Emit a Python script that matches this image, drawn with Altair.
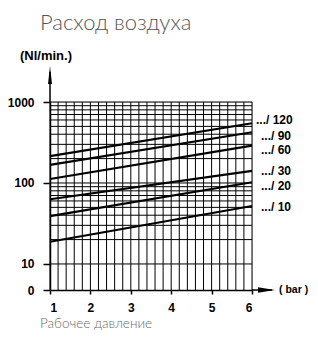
import altair as alt
import pandas as pd

# ---- data ----
series = [".../ 120", ".../ 90", ".../ 60", ".../ 30", ".../ 20", ".../ 10"]
pressure_start = [1, 1, 1, 1, 1, 1]
pressure_end = [6, 6, 6, 6, 6, 6]
flow_start = [215, 167, 112, 63, 39, 18.8]
flow_end = [546, 423, 289, 141, 102, 52]

x_ticks = [1, 2, 3, 4, 5, 6]
x_grid = [1.0, 1.2, 1.4, 1.6, 1.8, 2.0, 2.2, 2.4, 2.6, 2.8, 3.0, 3.2, 3.4, 3.6, 3.8,
          4.0, 4.2, 4.4, 4.6, 4.8, 5.0, 5.2, 5.4, 5.6, 5.8, 6.0]
y_grid = [10, 20, 30, 40, 50, 60, 70, 80, 90,
          100, 200, 300, 400, 500, 600, 700, 800, 900, 1000]
y_bottom = 4.77  # shown as "0"
y_ticks = [y_bottom, 10, 100, 1000]

title_text = "Расход воздуха"
y_title = "(Nl/min.)"
x_unit = "( bar )"
x_title = "Рабочее давление"

# ---- tables ----
rows = []
for s, p0, p1, q0, q1 in zip(series, pressure_start, pressure_end, flow_start, flow_end):
    rows.append({"series": s, "p": p0, "q": q0})
    rows.append({"series": s, "p": p1, "q": q1})
lines_df = pd.DataFrame(rows)
ends_df = pd.DataFrame({"series": series, "p": pressure_end, "q": flow_end})

W, H = 202, 188
BOLD = "Liberation Sans"
LIGHT = "Lato"

xs = alt.Scale(domain=[1, 6], nice=False, zero=False)
ys = alt.Scale(type="log", domain=[y_bottom, 1000], nice=False)

x_axis = alt.Axis(values=x_ticks, grid=False, tickSize=4, tickColor="black", tickWidth=1.5,
                  domainColor="black", domainWidth=1.5, labelFont=BOLD, labelFontWeight="bold",
                  labelFontSize=12, labelColor="black", labelPadding=8, format="d",
                  labelOverlap=False)
y_axis = alt.Axis(values=y_ticks, grid=False, tickSize=7, tickColor="black", tickWidth=1.5,
                  domainColor="black", domainWidth=1.5, labelFont=BOLD, labelFontWeight="bold",
                  labelFontSize=12, labelColor="black", labelPadding=9, labelOverlap=False,
                  labelExpr="datum.value < 5 ? '0' : format(datum.value, 'd')")

X = alt.X("p:Q", scale=xs, axis=x_axis, title=None)
Y = alt.Y("q:Q", scale=ys, axis=y_axis, title=None)

vgrid = alt.Chart(pd.DataFrame({"p": x_grid})).mark_rule(color="#000", strokeWidth=1).encode(x=X)
hgrid = alt.Chart(pd.DataFrame({"q": y_grid})).mark_rule(color="#000", strokeWidth=1).encode(y=Y)

lines = alt.Chart(lines_df).mark_line(color="black", strokeWidth=2.2).encode(
    x=X, y=Y, detail="series:N")

label_offsets = {0: (4, -3), 1: (9, 4), 2: (9, 4), 3: (9, 0), 4: (9, 4), 5: (9, 1)}
label_layers = []
for i, s in enumerate(series):
    dx, dy = label_offsets[i]
    label_layers.append(
        alt.Chart(ends_df[ends_df["series"] == s]).mark_text(
            align="left", baseline="middle", dx=dx, dy=dy, font=BOLD,
            fontWeight="bold", fontSize=12, color="black"
        ).encode(x=X, y=Y, text="series:N")
    )

one = pd.DataFrame({"a": [0]})

up_line = alt.Chart(one).mark_rule(color="black", strokeWidth=1.5).encode(
    x=alt.value(0), y=alt.value(0), y2=alt.value(-30))
up_head = alt.Chart(one).mark_point(
    shape="M0,-1L0.22,1L-0.22,1Z", filled=True, color="black", opacity=1, size=324
).encode(x=alt.value(0), y=alt.value(-27))

right_line = alt.Chart(one).mark_rule(color="black", strokeWidth=1.5).encode(
    x=alt.value(W), x2=alt.value(W + 20), y=alt.value(H))
right_head = alt.Chart(one).mark_point(
    shape="M1,0L-1,-0.32L-1,0.32Z", filled=True, color="black", opacity=1, size=289
).encode(x=alt.value(216.5), y=alt.value(H))

bar_text = alt.Chart(one).mark_text(
    align="left", baseline="middle", font=BOLD, fontWeight="bold", fontSize=10.5, color="black"
).encode(x=alt.value(W + 27), y=alt.value(H), text=alt.value(x_unit))

title = alt.Chart(one).mark_text(
    align="left", baseline="alphabetic", font=LIGHT, fontWeight=300, fontSize=22, color="#555555"
).encode(x=alt.value(-10), y=alt.value(-72), text=alt.value(title_text))

ytitle = alt.Chart(one).mark_text(
    align="left", baseline="middle", font=BOLD, fontWeight="bold", fontSize=13, color="black"
).encode(x=alt.value(-30), y=alt.value(-46), text=alt.value(y_title))

xtitle = alt.Chart(one).mark_text(
    align="left", baseline="alphabetic", font=LIGHT, fontWeight=300, fontSize=13.5, color="#6a6a6a"
).encode(x=alt.value(-10), y=alt.value(226), text=alt.value(x_title))

chart = alt.layer(
    vgrid, hgrid, lines, *label_layers, up_line, up_head, right_line, right_head,
    bar_text, title, ytitle, xtitle
).properties(
    width=W, height=H, autosize="none",
    padding={"left": 42, "top": 94, "right": 58, "bottom": 42},
).configure_view(stroke=None).configure(background="white")

chart.save("out.html", embed_options={"renderer": "svg", "actions": False})
